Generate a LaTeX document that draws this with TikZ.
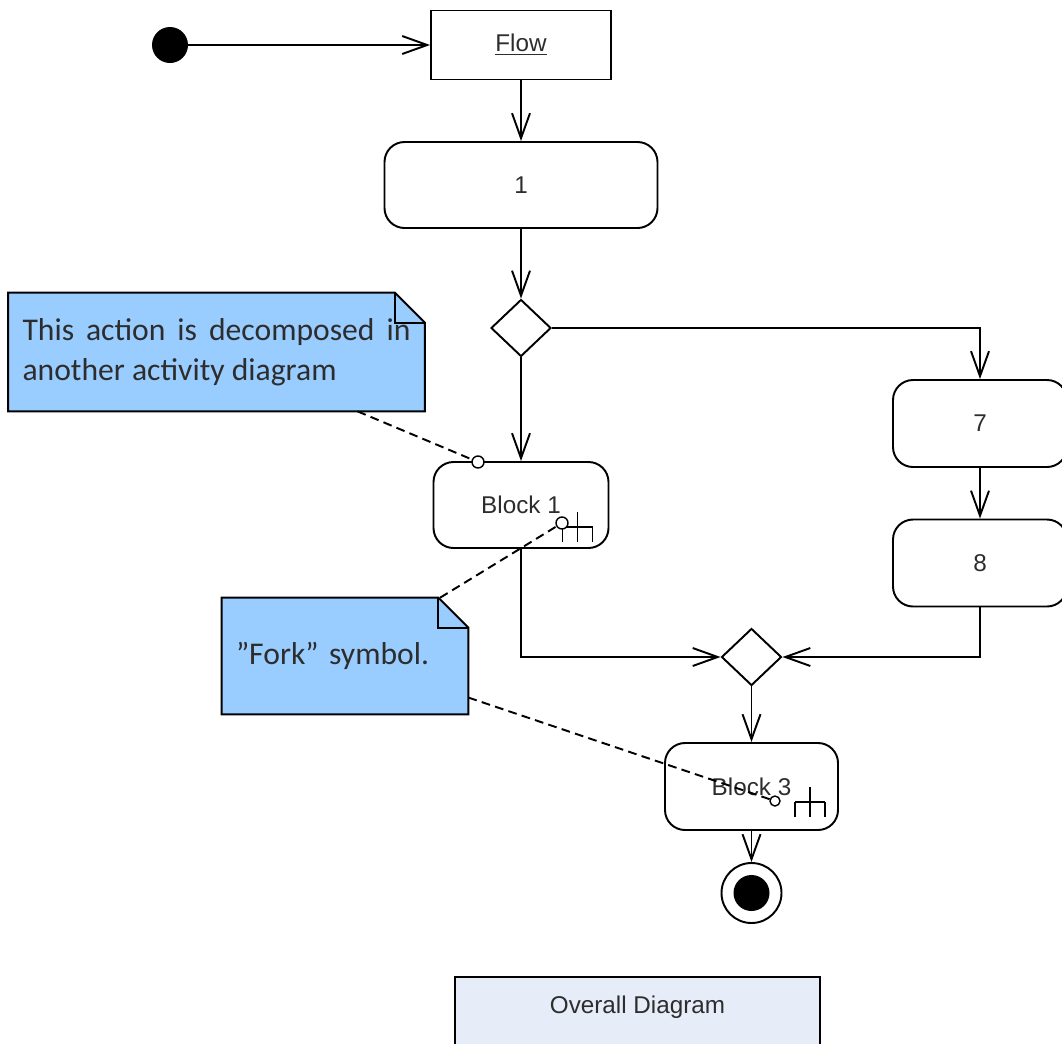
\documentclass[tikz,border=0pt]{standalone}
\usepackage{fontspec}
\setmainfont{Liberation Sans}
\newfontfamily\notefont{Carlito}
\usetikzlibrary{arrows.meta,shapes.geometric,backgrounds}
\definecolor{notebg}{RGB}{153,204,255}
\definecolor{framebg}{RGB}{230,236,248}
\definecolor{ink}{RGB}{45,45,45}

\begin{document}
\begin{tikzpicture}[
    >={Straight Barb[length=5mm,width=3.6mm]},
    lbl/.style={font=\fontsize{13.8}{16}\selectfont, text=ink},
    act/.style={lbl, rectangle, rounded corners=4mm, draw=black, line width=1.1pt,
                minimum width=3.48cm, minimum height=1.74cm, inner sep=0pt},
    obj/.style={lbl, rectangle, draw=black, line width=1.1pt,
                minimum width=3.6cm, minimum height=1.38cm, inner sep=0pt},
    decision/.style={diamond, draw=black, line width=1.1pt, fill=white,
                minimum width=1.2cm, minimum height=1.14cm, inner sep=0pt},
    startdot/.style={circle, fill=black, minimum size=0.72cm, inner sep=0pt},
    enddot/.style={circle, draw=black, line width=1.1pt, minimum size=1.2cm, inner sep=0pt},
    port/.style={circle, draw=black, fill=white, line width=0.8pt,
                minimum size=0.24cm, inner sep=0pt},
    ctrl/.style={draw=black, line width=1.1pt, ->},
    anno/.style={draw=black, line width=1.1pt, dash pattern=on 5pt off 3pt},
    notetxt/.style={font=\notefont\fontsize{18}{22.5}\selectfont, text=ink,
                inner xsep=0.28cm, inner ysep=0pt},
    notebody/.style={draw=black, line width=1.1pt, fill=notebg},
    forkmark/.pic={
      \draw[line width=1.1pt] (-0.3,0) -- (0.3,0)
        (-0.3,0) -- (-0.3,-0.3) (0,0.3) -- (0,-0.3) (0.3,0) -- (0.3,-0.3);}]
  \useasboundingbox (0,0) rectangle (21.24,-20.86);
  \def\fold{0.6cm}
  % --- main column -----------------------------------------------------------
  \node[startdot] (init) at (3.40,-0.90) {};
  \node[obj] (flowbox) at (10.42,-0.90) {\underline{Flow}};
  \node[act, minimum width=5.46cm, minimum height=1.72cm] (a1) at (10.42,-3.70) {1};
  \node[decision] (d1) at (10.42,-6.56) {};
  \node[act, minimum width=3.5cm, minimum height=1.72cm] (b1) at (10.42,-10.10) {Block 1};
  % --- right branch -----------------------------------------------------------
  \node[act] (a7) at (19.60,-8.47) {7};
  \node[act] (a8) at (19.60,-11.26) {8};
  % --- merge and end ----------------------------------------------------------
  \node[decision] (d2) at (15.03,-13.14) {};
  \node[act, minimum width=3.46cm] (b3) at (15.03,-15.73) {Block 3};
  \node[enddot] (fin) at (15.03,-17.86) {};
  \node[startdot] at (fin) {};
  % --- control flow -----------------------------------------------------------
  \draw[ctrl] (init) -- (flowbox);
  \draw[ctrl] (flowbox) -- (a1);
  \draw[ctrl] (a1) -- (d1);
  \draw[ctrl] (d1) -- (b1);
  \draw[ctrl] (d1) -| (a7);
  \draw[ctrl] (a7) -- (a8);
  \draw[ctrl] (b1) |- (d2);
  \draw[ctrl] (a8) |- (d2);
  \draw[ctrl] (d2) -- (b3);
  \draw[ctrl] (b3) -- (fin);
  % --- fork marks and ports ---------------------------------------------------
  \pic at ([xshift=1.13cm,yshift=-0.44cm]b1.center) {forkmark};
  \pic at ([xshift=1.17cm,yshift=-0.31cm]b3.center) {forkmark};
  \node[port] (c1) at (9.56,-9.24) {};
  \node[port] (c2) at (11.24,-10.46) {};
  \node[port, minimum size=0.2cm] (c3) at (15.50,-16.02) {};
  % --- notes ------------------------------------------------------------------
  \node[notetxt, text width=7.76cm, align=justify, minimum height=2.36cm] (n1)
    at (4.33,-7.04) {This action is decomposed in\linebreak another activity diagram};
  \node[notetxt, text width=4.36cm, align=left, minimum height=2.32cm] (n2)
    at (6.90,-13.12) {”Fork” symbol.};
  \begin{scope}[on background layer]
    \foreach \n in {n1,n2} {
      \draw[notebody] (\n.south west) -- (\n.north west) -- ([xshift=-\fold]\n.north east)
        -- ([yshift=-\fold]\n.north east) -- (\n.south east) -- cycle;
      \draw[notebody, fill=none] ([xshift=-\fold]\n.north east) |- ([yshift=-\fold]\n.north east); }
  \end{scope}
  \draw[anno] (n1) -- (c1);
  \draw[anno] (n2) -- (c2);
  \draw[anno] (n2) -- (c3);
  % --- frame label ------------------------------------------------------------
  \node[lbl, draw=black, line width=1.1pt, fill=framebg, anchor=north, minimum width=7.3cm,
        inner ysep=0pt, text height=0.74cm, text depth=0.8cm] (overall)
    at (12.75,-19.52) {Overall Diagram};
\end{tikzpicture}
\end{document}
